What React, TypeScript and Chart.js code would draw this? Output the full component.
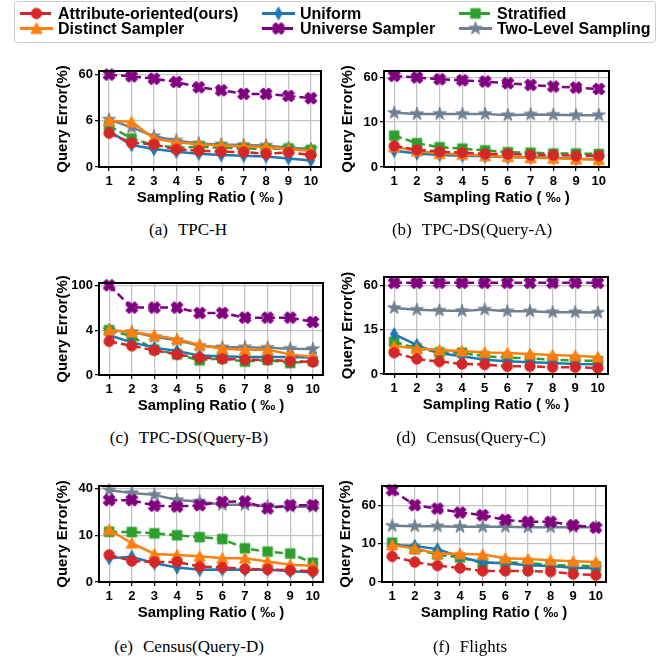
import React, { useEffect, useRef } from 'react';
import { Chart, registerables, LinearScale } from 'chart.js';

Chart.register(...registerables);

// ---------------- DATA ----------------
const X_TICKS = [1, 2, 3, 4, 5, 6, 7, 8, 9, 10];
const SERIES_NAMES = [
  'Attribute-oriented(ours)',
  'Distinct Sampler',
  'Uniform',
  'Universe Sampler',
  'Stratified',
  'Two-Level Sampling',
];
const X_TITLE = 'Sampling Ratio ( \u2030 )';
const Y_TITLE = 'Query Error(%)';

// (a) TPC-H
const TPCH_YTICKS = [0, 6, 60];
const TPCH_YMAX = 72;
const TPCH_ATTR = [4.4, 3.15, 2.94, 2.29, 2.12, 1.99, 1.94, 1.73, 1.9, 1.55];
const TPCH_DISTINCT = [6.0, 5.87, 3.7, 3.2, 2.94, 2.8, 2.68, 2.6, 2.33, 2.07];
const TPCH_UNIFORM = [4.66, 2.85, 2.33, 1.99, 1.73, 1.55, 1.47, 1.38, 1.12, 0.86];
const TPCH_UNIVERSE = [60, 55.2, 49, 41.7, 32, 27.5, 23, 23, 20.8, 18.5];
const TPCH_STRATIFIED = [5.35, 3.7, 2.85, 2.5, 2.63, 2.5, 2.42, 2.33, 2.42, 2.24];
const TPCH_TWOLEVEL = [6.4, 5.14, 4.0, 3.45, 3.06, 2.94, 2.85, 2.8, 2.5, 2.33];

// (b) TPC-DS(Query-A)
const DSA_YTICKS = [0, 10, 60];
const DSA_YMAX = 77;
const DSA_ATTR = [4.7, 3.85, 3.4, 3.2, 2.9, 2.9, 2.67, 2.67, 2.5, 2.5];
const DSA_DISTINCT = [4.5, 3.55, 3.0, 2.8, 2.5, 2.3, 2.07, 1.93, 1.78, 1.63];
const DSA_UNIFORM = [3.6, 3.0, 2.67, 2.5, 2.37, 2.2, 2.15, 2.07, 1.85, 1.78];
const DSA_UNIVERSE = [63.3, 59.4, 55.4, 53.2, 50.6, 47.3, 44.2, 41.4, 39.7, 37.6];
const DSA_STRATIFIED = [7.0, 5.3, 4.4, 4.1, 3.7, 3.3, 3.2, 3.0, 3.0, 2.9];
const DSA_TWOLEVEL = [14.5, 13.9, 13.9, 13.9, 13.9, 13.2, 13.6, 13.4, 13.2, 13.2];

// (c) TPC-DS(Query-B)
const DSB_YTICKS = [0, 4, 100];
const DSB_YMAX = 118;
const DSB_ATTR = [3.0, 2.6, 2.2, 1.84, 1.55, 1.43, 1.37, 1.37, 1.22, 1.16];
const DSB_DISTINCT = [4.0, 3.84, 3.54, 3.2, 2.68, 2.35, 2.26, 2.26, 1.84, 1.6];
const DSB_UNIFORM = [3.54, 2.91, 2.44, 2.14, 1.73, 1.67, 1.6, 1.6, 1.6, 1.55];
const DSB_UNIVERSE = [100, 20.2, 20.2, 20.2, 13.7, 13.7, 9.8, 9.8, 9.8, 7.2];
const DSB_STRATIFIED = [4.0, 3.45, 2.26, 1.84, 1.31, 1.5, 1.19, 1.35, 1.07, 1.25];
const DSB_TWOLEVEL = [4.0, 3.84, 3.4, 3.1, 2.6, 2.47, 2.47, 2.44, 2.35, 2.32];

// (d) Census(Query-C)
const CQC_YTICKS = [0, 15, 60];
const CQC_YMAX = 78;
const CQC_ATTR = [7.2, 5.1, 4.2, 3.4, 3.2, 2.6, 2.6, 2.3, 2.3, 2.0];
const CQC_DISTINCT = [9.5, 8.6, 8.1, 7.8, 7.3, 7.1, 6.8, 6.4, 6.2, 5.75];
const CQC_UNIFORM = [13.5, 9.8, 7.0, 6.0, 4.85, 4.3, 3.95, 3.7, 3.4, 3.3];
const CQC_UNIVERSE = [65, 65, 65, 65, 65, 65, 65, 65, 65, 65];
const CQC_STRATIFIED = [10.9, 8.7, 7.3, 7.2, 6.0, 5.6, 5.3, 4.85, 4.6, 4.4];
const CQC_TWOLEVEL = [29.6, 28, 27.3, 27, 28.2, 26.7, 26.7, 25.9, 25.9, 25.6];

// (e) Census(Query-D)
const CQD_YTICKS = [0, 10, 40];
const CQD_YMAX = 43.2;
const CQD_ATTR = [5.8, 4.5, 4.3, 4.3, 3.3, 3.1, 2.8, 2.7, 2.5, 2.3];
const CQD_DISTINCT = [11.8, 8.3, 6.0, 5.8, 5.5, 5.1, 5.1, 4.4, 3.7, 3.5];
const CQD_UNIFORM = [5.1, 5.4, 4.0, 3.1, 2.6, 2.7, 2.6, 2.7, 2.3, 2.1];
const CQD_UNIVERSE = [28.4, 28.4, 24.0, 23.5, 24.4, 27.0, 27.3, 22.2, 24.4, 24.4];
const CQD_STRATIFIED = [11.1, 11.0, 10.6, 10.0, 9.6, 9.2, 7.2, 6.5, 6.1, 4.1];
const CQD_TWOLEVEL = [38.1, 35.2, 33.2, 28.6, 27.3, 24.7, 24.7, 23.7, 23.3, 23.3];

// (f) Flights
const FL_YTICKS = [0, 10, 60];
const FL_YMAX = 150;
const FL_ATTR = [6.7, 5.2, 4.3, 3.65, 2.9, 2.9, 2.9, 2.7, 2.1, 1.8];
const FL_DISTINCT = [9.7, 8.8, 7.4, 7.4, 7.2, 6.2, 6.0, 5.7, 5.4, 5.2];
const FL_UNIFORM = [9.7, 9.4, 8.6, 6.6, 5.1, 4.9, 4.4, 4.2, 3.7, 3.6];
const FL_UNIVERSE = [123, 61, 52, 43.3, 38.2, 30.7, 28, 28, 23.9, 21.4];
const FL_STRATIFIED = [10.5, 8.6, 7.2, 6.4, 5.0, 5.1, 5.0, 4.4, 4.3, 4.1];
const FL_TWOLEVEL = [23.2, 22.8, 22.8, 22.1, 22.1, 22.1, 21.7, 21.7, 21.7, 21.7];

const PANELS = [
  { tag: '(a)', name: 'TPC-H', yTicks: TPCH_YTICKS, yMax: TPCH_YMAX,
    series: [TPCH_ATTR, TPCH_DISTINCT, TPCH_UNIFORM, TPCH_UNIVERSE, TPCH_STRATIFIED, TPCH_TWOLEVEL] },
  { tag: '(b)', name: 'TPC-DS(Query-A)', yTicks: DSA_YTICKS, yMax: DSA_YMAX,
    series: [DSA_ATTR, DSA_DISTINCT, DSA_UNIFORM, DSA_UNIVERSE, DSA_STRATIFIED, DSA_TWOLEVEL] },
  { tag: '(c)', name: 'TPC-DS(Query-B)', yTicks: DSB_YTICKS, yMax: DSB_YMAX,
    series: [DSB_ATTR, DSB_DISTINCT, DSB_UNIFORM, DSB_UNIVERSE, DSB_STRATIFIED, DSB_TWOLEVEL] },
  { tag: '(d)', name: 'Census(Query-C)', yTicks: CQC_YTICKS, yMax: CQC_YMAX,
    series: [CQC_ATTR, CQC_DISTINCT, CQC_UNIFORM, CQC_UNIVERSE, CQC_STRATIFIED, CQC_TWOLEVEL] },
  { tag: '(e)', name: 'Census(Query-D)', yTicks: CQD_YTICKS, yMax: CQD_YMAX,
    series: [CQD_ATTR, CQD_DISTINCT, CQD_UNIFORM, CQD_UNIVERSE, CQD_STRATIFIED, CQD_TWOLEVEL] },
  { tag: '(f)', name: 'Flights', yTicks: FL_YTICKS, yMax: FL_YMAX,
    series: [FL_ATTR, FL_DISTINCT, FL_UNIFORM, FL_UNIVERSE, FL_STRATIFIED, FL_TWOLEVEL] },
];

// ---------------- LAYOUT / STYLE ----------------
const FRAMES = [
  { L: 99, R: 321, T: 71, B: 167 },
  { L: 384, R: 609, T: 71, B: 167 },
  { L: 99, R: 323, T: 283, B: 375 },
  { L: 384, R: 608, T: 277, B: 374 },
  { L: 99, R: 323, T: 486, B: 582 },
  { L: 382, R: 606, T: 486, B: 582 },
];
const CAPTIONS_POS = [
  { cx: 188, cy: 230 }, { cx: 472, cy: 230 },
  { cx: 189, cy: 438 }, { cx: 471, cy: 438 },
  { cx: 189, cy: 647 }, { cx: 470, cy: 647 },
];
const Y_AXIS_W = 90;
const X_AXIS_H = 45;
const PAD_TOP = 10;
const PAD_RIGHT = 10;

const STYLES = [
  { color: '#d62728', marker: 'circle', dash: [8, 4] },
  { color: '#ff7f0e', marker: 'triangle', dash: [] },
  { color: '#1f77b4', marker: 'thinDiamond', dash: [] },
  { color: '#800080', marker: 'X', dash: [8, 4] },
  { color: '#2ca02c', marker: 'square', dash: [8, 4] },
  { color: '#708090', marker: 'star', dash: [] },
];
const LEGEND_DASH = [13, 5];

const SANS = '"Liberation Sans", Arial, Helvetica, sans-serif';
const SERIF = '"Liberation Serif", "Times New Roman", serif';

// ---------------- symlog-like scale ----------------
const SYMLOG_PARAMS = new Map<any, { t: number; T: number }>();

class SymlogScale extends LinearScale {
  static id = 'symlog';
  params() {
    const o: any = this.options;
    if (o && typeof o.linthresh === 'number') return { t: o.linthresh, T: o.topTick };
    const p = SYMLOG_PARAMS.get((this as any).chart.canvas);
    return p || { t: 1, T: 10 };
  }
  tf(v: number) {
    const { t, T } = this.params();
    if (v <= t) return v / t;
    return 1 + Math.log(v / t) / Math.log(T / t);
  }
  itf(f: number) {
    const { t, T } = this.params();
    if (f <= 1) return f * t;
    return t * Math.pow(T / t, f - 1);
  }
  getPixelForValue(value: any) {
    if (value === null || value === undefined || isNaN(value)) return NaN;
    const a = this.tf(this.min);
    const b = this.tf(this.max);
    return this.getPixelForDecimal((this.tf(value) - a) / (b - a));
  }
  getValueForPixel(pixel: number) {
    const a = this.tf(this.min);
    const b = this.tf(this.max);
    return this.itf(a + this.getDecimalForPixel(pixel) * (b - a));
  }
}
Chart.register(SymlogScale as any);

// ---------------- marker images ----------------
let MARKERS: HTMLCanvasElement[] | null = null;
function makeMarker(kind: string, color: string): HTMLCanvasElement {
  const s = 18;
  const c = document.createElement('canvas');
  c.width = s;
  c.height = s;
  const ctx = c.getContext('2d')!;
  ctx.translate(s / 2, s / 2);
  ctx.fillStyle = color;
  ctx.strokeStyle = color;
  ctx.lineWidth = 1;
  ctx.lineJoin = 'miter';
  ctx.beginPath();
  if (kind === 'circle') {
    ctx.arc(0, 0, 5.2, 0, Math.PI * 2);
  } else if (kind === 'square') {
    ctx.rect(-4.8, -4.8, 9.6, 9.6);
  } else if (kind === 'triangle') {
    ctx.moveTo(0, -5.6);
    ctx.lineTo(5.6, 5.0);
    ctx.lineTo(-5.6, 5.0);
  } else if (kind === 'thinDiamond') {
    ctx.moveTo(0, -6.5);
    ctx.lineTo(3.6, 0);
    ctx.lineTo(0, 6.5);
    ctx.lineTo(-3.6, 0);
  } else if (kind === 'X') {
    const a = 6.2, b = 2.4;
    const pts = [[b, a], [b, b], [a, b], [a, -b], [b, -b], [b, -a], [-b, -a], [-b, -b], [-a, -b], [-a, b], [-b, b], [-b, a]];
    const r = Math.SQRT1_2;
    pts.forEach(([x, y], i) => {
      const rx = (x - y) * r, ry = (x + y) * r;
      if (i === 0) ctx.moveTo(rx, ry); else ctx.lineTo(rx, ry);
    });
  } else if (kind === 'star') {
    const R = 6.8, rr = R * 0.382;
    for (let i = 0; i < 10; i++) {
      const ang = -Math.PI / 2 + (i * Math.PI) / 5;
      const rad = i % 2 === 0 ? R : rr;
      const x = Math.cos(ang) * rad, y = Math.sin(ang) * rad;
      if (i === 0) ctx.moveTo(x, y); else ctx.lineTo(x, y);
    }
  }
  ctx.closePath();
  ctx.fill();
  ctx.stroke();
  return c;
}
function getMarkers() {
  if (!MARKERS) MARKERS = STYLES.map((s) => makeMarker(s.marker, s.color));
  return MARKERS;
}

// ---------------- plugins ----------------
const framePlugin = {
  id: 'frameBox',
  afterDatasetsDraw(chart: any) {
    const { ctx, chartArea: a } = chart;
    ctx.save();
    ctx.strokeStyle = '#000';
    ctx.lineWidth = 2;
    ctx.setLineDash([]);
    ctx.strokeRect(a.left, a.top, a.right - a.left, a.bottom - a.top);
    ctx.restore();
  },
};

const LEG_COL_X = [20, 262, 459];
const LEG_ROW_Y = [13.5, 28.5];
const legendPlugin = {
  id: 'gridLegend',
  afterDraw(chart: any) {
    const ctx: CanvasRenderingContext2D = chart.ctx;
    ctx.save();
    const x = 14.5, y = 1.5, w = 641, h = 41, r = 3;
    ctx.beginPath();
    ctx.moveTo(x + r, y);
    ctx.lineTo(x + w - r, y);
    ctx.quadraticCurveTo(x + w, y, x + w, y + r);
    ctx.lineTo(x + w, y + h - r);
    ctx.quadraticCurveTo(x + w, y + h, x + w - r, y + h);
    ctx.lineTo(x + r, y + h);
    ctx.quadraticCurveTo(x, y + h, x, y + h - r);
    ctx.lineTo(x, y + r);
    ctx.quadraticCurveTo(x, y, x + r, y);
    ctx.closePath();
    ctx.fillStyle = '#fff';
    ctx.fill();
    ctx.strokeStyle = '#cccccc';
    ctx.lineWidth = 1;
    ctx.stroke();
    chart.data.datasets.forEach((ds: any, i: number) => {
      const col = Math.floor(i / 2), row = i % 2;
      const x0 = LEG_COL_X[col], yy = LEG_ROW_Y[row];
      ctx.beginPath();
      ctx.setLineDash(ds.borderDash && ds.borderDash.length ? LEGEND_DASH : []);
      ctx.strokeStyle = ds.borderColor;
      ctx.lineWidth = 3;
      ctx.moveTo(x0, yy);
      ctx.lineTo(x0 + 33, yy);
      ctx.stroke();
      ctx.setLineDash([]);
      const img = ds.pointStyle as HTMLCanvasElement;
      ctx.drawImage(img, x0 + 16.5 - img.width / 2, yy - img.height / 2);
      ctx.fillStyle = '#000';
      ctx.font = `bold 16px ${SANS}`;
      ctx.textBaseline = 'middle';
      ctx.textAlign = 'left';
      ctx.fillText(ds.label, x0 + 38, yy + 1);
    });
    ctx.restore();
  },
};

// ---------------- components ----------------
function Legend() {
  const ref = useRef<HTMLCanvasElement>(null);
  useEffect(() => {
    const markers = getMarkers();
    const chart = new Chart(ref.current!, {
      type: 'line',
      data: {
        labels: [],
        datasets: SERIES_NAMES.map((name, k) => ({
          label: name,
          data: [],
          borderColor: STYLES[k].color,
          backgroundColor: STYLES[k].color,
          borderDash: STYLES[k].dash,
          pointStyle: markers[k] as any,
        })),
      },
      options: {
        responsive: false,
        animation: false,
        devicePixelRatio: 1,
        events: [],
        plugins: { legend: { display: false }, tooltip: { enabled: false } },
        scales: { x: { display: false }, y: { display: false } },
      },
      plugins: [legendPlugin],
    } as any);
    return () => chart.destroy();
  }, []);
  return (
    <canvas ref={ref} width={667} height={46}
      style={{ position: 'absolute', left: 0, top: 0, width: 667, height: 46 }} />
  );
}

function Panel({ index }: { index: number }) {
  const ref = useRef<HTMLCanvasElement>(null);
  const p = PANELS[index];
  const f = FRAMES[index];
  const cw = f.R - f.L + Y_AXIS_W + PAD_RIGHT;
  const ch = f.B - f.T + PAD_TOP + X_AXIS_H;
  useEffect(() => {
    const markers = getMarkers();
    const canvas = ref.current!;
    SYMLOG_PARAMS.set(canvas, { t: p.yTicks[1], T: p.yTicks[2] });
    const tickFont = { family: SANS, size: 13, weight: 'bold' as const };
    const titleFont = { family: SANS, size: 15, weight: 'bold' as const };
    const grid = {
      color: 'rgba(190,190,190,0.9)',
      lineWidth: 1.3,
      tickColor: '#000',
      tickWidth: 1.2,
      tickLength: 4,
    };
    const chart = new Chart(canvas, {
      type: 'line',
      data: {
        datasets: SERIES_NAMES.map((name, k) => ({
          label: name,
          data: X_TICKS.map((x, j) => ({ x, y: p.series[k][j] })),
          borderColor: STYLES[k].color,
          backgroundColor: STYLES[k].color,
          borderWidth: 2.5,
          borderDash: STYLES[k].dash,
          pointStyle: markers[k] as any,
          pointRadius: 6,
          tension: 0,
          clip: false as any,
        })),
      },
      options: {
        responsive: false,
        animation: false,
        devicePixelRatio: 1,
        events: [],
        layout: { padding: { left: 0, top: PAD_TOP, right: PAD_RIGHT, bottom: 0 } },
        plugins: { legend: { display: false }, tooltip: { enabled: false } },
        scales: {
          x: {
            type: 'linear',
            min: 0.55,
            max: 10.45,
            bounds: 'data',
            afterBuildTicks: (s: any) => { s.ticks = X_TICKS.map((v) => ({ value: v })); },
            afterFit: (s: any) => { s.height = X_AXIS_H; },
            grid,
            border: { display: false },
            ticks: {
              font: tickFont, color: '#000', padding: 3, maxRotation: 0, autoSkip: false,
              callback: (v: any) => String(v),
            },
            title: {
              display: true, text: X_TITLE, font: titleFont, color: '#000',
              padding: { top: 0, bottom: 5 },
            },
          },
          y: {
            type: 'symlog',
            min: 0,
            max: p.yMax,
            linthresh: p.yTicks[1],
            topTick: p.yTicks[2],
            bounds: 'data',
            afterBuildTicks: (s: any) => { s.ticks = p.yTicks.map((v) => ({ value: v })); },
            afterFit: (s: any) => { s.width = Y_AXIS_W; },
            grid,
            border: { display: false },
            ticks: {
              font: tickFont, color: '#000', padding: 2, autoSkip: false,
              callback: (v: any) => String(v),
            },
            title: {
              display: true, text: Y_TITLE, font: titleFont, color: '#000',
              padding: { top: 45, bottom: 0 },
            },
          } as any,
        },
      },
      plugins: [framePlugin],
    } as any);
    return () => chart.destroy();
  }, [index]);
  return (
    <canvas ref={ref} width={cw} height={ch}
      style={{ position: 'absolute', left: f.L - Y_AXIS_W, top: f.T - PAD_TOP, width: cw, height: ch }} />
  );
}

function Caption({ index }: { index: number }) {
  const p = PANELS[index];
  const c = CAPTIONS_POS[index];
  return (
    <div style={{
      position: 'absolute', left: c.cx - 150, top: c.cy - 11, width: 300, height: 22,
      lineHeight: '22px', textAlign: 'center', fontFamily: SERIF, fontSize: 17, color: '#000',
      whiteSpace: 'nowrap',
    }}>
      <span>{p.tag}</span>
      <span style={{ marginLeft: 10 }}>{p.name}</span>
    </div>
  );
}

export default function App() {
  return (
    <div style={{ position: 'absolute', left: 0, top: 0, width: 667, height: 663, background: '#fff', overflow: 'hidden' }}>
      {PANELS.map((_, i) => <Panel key={'p' + i} index={i} />)}
      {PANELS.map((_, i) => <Caption key={'c' + i} index={i} />)}
      <Legend />
    </div>
  );
}
